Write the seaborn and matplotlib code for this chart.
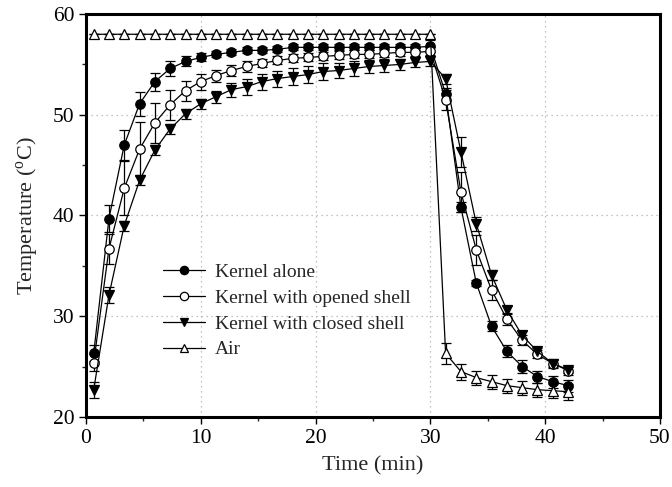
import matplotlib
matplotlib.use("Agg")
import matplotlib.pyplot as plt
import seaborn as sns
import pandas as pd
from matplotlib.lines import Line2D

# Sampling times (min): heating phase to 30 min, then cooling
time_min = [0.67, 2.0, 3.33, 4.67, 6.0, 7.33, 8.67, 10.0, 11.33, 12.67, 14.0,
            15.33, 16.67, 18.0, 19.33, 20.67, 22.0, 23.33, 24.67, 26.0, 27.33,
            28.67, 30.0, 31.33, 32.67, 34.0, 35.33, 36.67, 38.0, 39.33, 40.67, 42.0]

kernel_alone = [26.3, 39.7, 47.0, 51.1, 53.3, 54.6, 55.3, 55.7, 56.0, 56.2, 56.4,
                56.4, 56.5, 56.7, 56.7, 56.7, 56.7, 56.7, 56.7, 56.7, 56.7,
                56.7, 56.8, 52.1, 40.8, 33.3, 29.0, 26.5, 25.0, 24.0, 23.5, 23.1]
kernel_alone_sd = [0.8, 1.3, 1.5, 1.2, 0.9, 0.7, 0.5, 0.4, 0.3, 0.3, 0.3,
                   0.3, 0.3, 0.3, 0.3, 0.3, 0.3, 0.3, 0.3, 0.3, 0.3,
                   0.3, 0.6, 0.6, 0.5, 0.3, 0.5, 0.6, 0.6, 0.6, 0.6, 0.6]

kernel_opened = [25.4, 36.7, 42.7, 46.6, 49.2, 51.0, 52.4, 53.3, 53.9, 54.4, 54.8,
                 55.1, 55.4, 55.6, 55.7, 55.8, 55.9, 56.0, 56.0, 56.1, 56.2,
                 56.2, 56.3, 51.5, 42.3, 36.6, 32.6, 29.7, 27.6, 26.2, 25.3, 24.6]
kernel_opened_sd = [0.8, 1.5, 2.7, 2.7, 2.0, 1.5, 1.0, 0.8, 0.6, 0.5, 0.5,
                    0.4, 0.4, 0.4, 0.4, 0.4, 0.4, 0.4, 0.4, 0.4, 0.4,
                    0.4, 0.4, 1.0, 2.0, 1.5, 1.0, 0.6, 0.5, 0.4, 0.4, 0.4]

kernel_closed = [22.7, 32.1, 39.0, 43.5, 46.5, 48.6, 50.1, 51.1, 51.8, 52.5, 52.8,
                 53.3, 53.6, 53.8, 54.0, 54.3, 54.4, 54.6, 54.8, 54.9, 55.0,
                 55.2, 55.3, 53.6, 46.3, 39.2, 34.1, 30.6, 28.1, 26.5, 25.3, 24.7]
kernel_closed_sd = [0.8, 0.8, 0.5, 0.5, 0.5, 0.5, 0.5, 0.5, 0.6, 0.7, 0.8,
                    0.8, 0.8, 0.8, 0.8, 0.8, 0.7, 0.7, 0.6, 0.6, 0.5,
                    0.5, 0.5, 0.5, 1.5, 0.7, 0.5, 0.4, 0.4, 0.3, 0.3, 0.3]

air = [58.0, 58.0, 58.0, 58.0, 58.0, 58.0, 58.0, 58.0, 58.0, 58.0, 58.0,
       58.0, 58.0, 58.0, 58.0, 58.0, 58.0, 58.0, 58.0, 58.0, 58.0,
       58.0, 58.0, 26.3, 24.5, 23.9, 23.5, 23.1, 22.9, 22.7, 22.6, 22.5]
air_sd = [0.0, 0.0, 0.0, 0.0, 0.0, 0.0, 0.0, 0.0, 0.0, 0.0, 0.0,
          0.0, 0.0, 0.0, 0.0, 0.0, 0.0, 0.0, 0.0, 0.0, 0.0,
          0.0, 0.0, 1.0, 0.8, 0.7, 0.7, 0.7, 0.7, 0.7, 0.7, 0.8]

series_names = ["Kernel alone", "Kernel with opened shell",
                "Kernel with closed shell", "Air"]

sns.set_style("ticks")
plt.rcParams["font.family"] = ["Liberation Serif", "DejaVu Serif"]
plt.rcParams["mathtext.fontset"] = "custom"
plt.rcParams["mathtext.rm"] = "Liberation Serif"

fig = plt.figure(figsize=(6.72, 4.87), dpi=100)
ax = fig.add_axes([0.128, 0.144, 0.854, 0.827])

styles = [
    (kernel_alone, kernel_alone_sd, "o", "black"),
    (kernel_opened, kernel_opened_sd, "o", "white"),
    (kernel_closed, kernel_closed_sd, "v", "black"),
    (air, air_sd, "^", "white"),
]

handles = []
for name, (vals, sd, mk, face) in zip(series_names, styles):
    df = pd.DataFrame({"Time (min)": time_min, "Temperature": vals})
    ax.errorbar(time_min, vals, yerr=sd, fmt="none", ecolor="black",
                elinewidth=0.9, capsize=3.5, capthick=0.9, zorder=2)
    sns.lineplot(data=df, x="Time (min)", y="Temperature", ax=ax,
                 color="black", linewidth=0.9, marker=mk, markersize=6.8,
                 markerfacecolor=face, markeredgecolor="black",
                 markeredgewidth=0.9, zorder=3, legend=False)
    handles.append(Line2D([0], [0], color="black", linewidth=0.9, marker=mk,
                          markersize=6, markerfacecolor=face,
                          markeredgecolor="black", markeredgewidth=0.9,
                          label=name))

ax.set_xlim(0, 50)
ax.set_ylim(20, 60)
ax.set_xticks([0, 10, 20, 30, 40, 50])
ax.set_yticks([20, 30, 40, 50, 60])
ax.set_xticks([5, 15, 25, 35, 45], minor=True)
ax.set_yticks([25, 35, 45, 55], minor=True)
ax.tick_params(axis="both", which="major", direction="out", length=5,
               width=1.0, labelsize=15.5, colors="black")
ax.tick_params(axis="both", which="minor", direction="out", length=3,
               width=1.0)

for x in [10, 20, 30, 40]:
    ax.axvline(x, color="#b0b0b0", linestyle=(0, (1, 3)), linewidth=0.9, zorder=0)
for y in [30, 40, 50]:
    ax.axhline(y, color="#b0b0b0", linestyle=(0, (1, 3)), linewidth=0.9, zorder=0)

for sp in ax.spines.values():
    sp.set_visible(True)
    sp.set_linewidth(2.2)
    sp.set_color("black")

ax.set_xlabel("Time (min)", fontsize=16, labelpad=6)
ax.set_ylabel("Temperature ($^{\\mathrm{o}}$C)", fontsize=16, labelpad=8)

ax.legend(handles=handles, loc="upper left", bbox_to_anchor=(0.12, 0.40),
          frameon=False, fontsize=14, handlelength=2.2, handletextpad=0.5,
          labelspacing=0.42, borderaxespad=0)

fig.savefig("out.png", dpi=100)
